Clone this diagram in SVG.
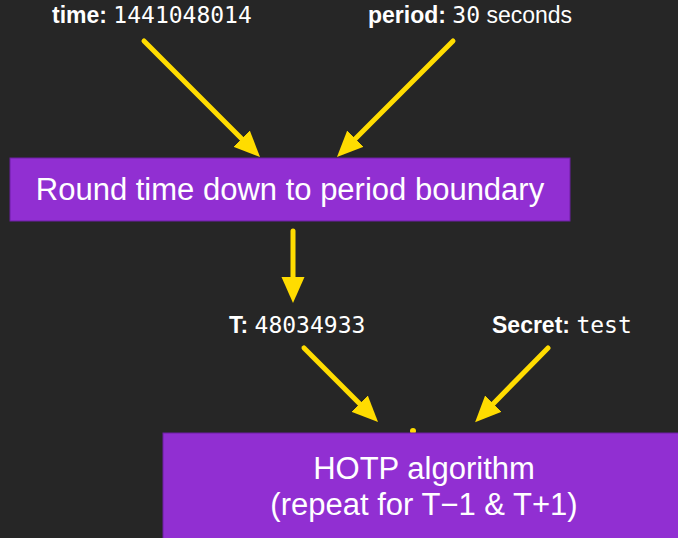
<svg xmlns="http://www.w3.org/2000/svg" width="678" height="538" viewBox="0 0 678 538">
  <style>
    .bg { fill: #262626; }
    .box { fill: #912fd2; stroke: #6c1fa3; stroke-width: 1; }
    .boxtext { font-family: "Liberation Sans", Arial, sans-serif; font-size: 31px; fill: #ffffff; text-anchor: middle; }
    .label { font-family: "Liberation Sans", Arial, sans-serif; font-size: 23px; fill: #ffffff; }
    .label .key { font-weight: bold; }
    .label .val { font-family: "DejaVu Sans Mono", "Liberation Mono", monospace; font-size: 23px; }
    .conn line { stroke: #ffdc00; stroke-width: 5; stroke-linecap: round; fill: none; }
  </style>
  <defs>
    <marker id="head" markerUnits="userSpaceOnUse" markerWidth="26" markerHeight="24" refX="6" refY="12" orient="auto">
      <path d="M0,0.5 L26,12 L0,23.5 z" fill="#ffdc00"/>
    </marker>
  </defs>

  <rect class="bg" x="0" y="0" width="678" height="538"/>

  <!-- input labels -->
  <g id="time-label">
    <text class="label" x="52" y="23"><tspan class="key">time:</tspan> <tspan class="val">1441048014</tspan></text>
  </g>
  <g id="period-label">
    <text class="label" x="368" y="23"><tspan class="key">period:</tspan> <tspan class="val">30</tspan> seconds</text>
  </g>
  <g id="t-label">
    <text class="label" x="229" y="333"><tspan class="key">T:</tspan> <tspan class="val">48034933</tspan></text>
  </g>
  <g id="secret-label">
    <text class="label" x="492" y="333"><tspan class="key">Secret:</tspan> <tspan class="val">test</tspan></text>
  </g>

  <!-- connectors -->
  <g id="connectors" class="conn">
    <line x1="144" y1="41" x2="245.9" y2="142.9" marker-end="url(#head)"/>
    <line x1="453" y1="41" x2="351.1" y2="142.9" marker-end="url(#head)"/>
    <line x1="293" y1="231" x2="293" y2="283" marker-end="url(#head)"/>
    <line x1="304" y1="348" x2="363.9" y2="407.9" marker-end="url(#head)"/>
    <line x1="548" y1="348" x2="489.1" y2="407.9" marker-end="url(#head)"/>
    <circle cx="413" cy="431" r="3" fill="#ffdc00"/>
  </g>

  <!-- processing steps -->
  <g id="round-node">
    <rect class="box" x="10" y="158" width="560" height="63"/>
    <text class="boxtext" x="290" y="200">Round time down to period boundary</text>
  </g>
  <g id="hotp-node">
    <rect class="box" x="163" y="433" width="530" height="120"/>
    <text class="boxtext" x="424" y="479">HOTP algorithm</text>
    <text class="boxtext" x="424" y="515">(repeat for T−1 &amp; T+1)</text>
  </g>
</svg>
